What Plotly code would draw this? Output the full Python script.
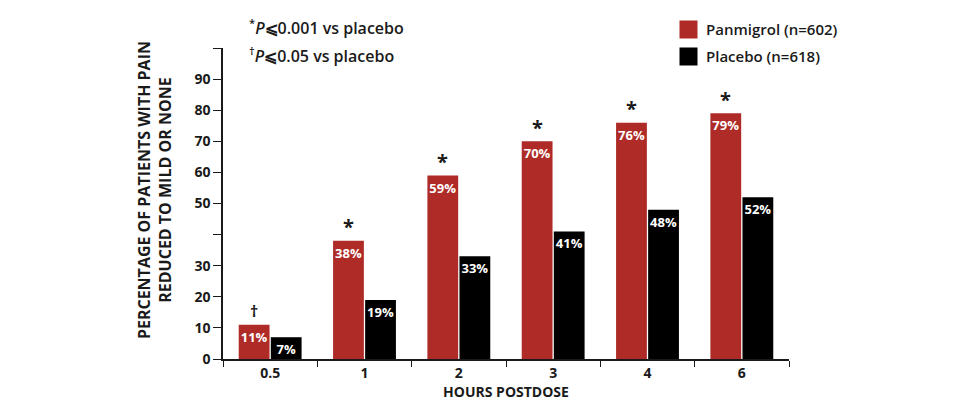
import plotly.graph_objects as go

# データ
hours = ["0.5", "1", "2", "3", "4", "6"]
panmigrol = [11, 38, 59, 70, 76, 79]
placebo = [7, 19, 33, 41, 48, 52]
significance = ["†", "*", "*", "*", "*", "*"]

series_names = ["Panmigrol (n=602)", "Placebo (n=618)"]

y_ticks = [0, 10, 20, 30, 40, 50, 60, 70, 80, 90, 100]
y_labels = ["0", "10", "20", "30", "", "50", "60", "70", "80", "90", ""]

RED = "#AE2B27"
BLACK = "#000000"
INK = "#1a1a1a"
FONT = "Open Sans"

fig = go.Figure()

for name, vals, color in [(series_names[0], panmigrol, RED), (series_names[1], placebo, BLACK)]:
    fig.add_trace(go.Bar(
        x=hours, y=vals, name=name,
        marker=dict(color=color, line=dict(width=0)),
        text=[f"{v}%" for v in vals],
        textposition="inside", insidetextanchor="end", textangle=0,
        constraintext="none",
        textfont=dict(family=FONT, size=13, color="white", weight="bold"),
        showlegend=False,
    ))

# 有意差マーク（カテゴリ軸なのでインデックス位置で指定）
for i, (v, s) in enumerate(zip(panmigrol, significance)):
    fig.add_annotation(
        x=i, y=v, text=f"<b>{s}</b>", showarrow=False,
        xshift=-16, yshift=14, yanchor="middle",
        font=dict(family=FONT, size=20 if s == "*" else 16, color=INK),
    )

# 脚注
fig.add_annotation(
    xref="paper", yref="paper", x=0.043, y=1.066, xanchor="left", yanchor="middle",
    text="<sup>*</sup><i>P</i>⩽0.001 vs placebo", showarrow=False,
    font=dict(family=FONT, size=16, color=INK, weight=600),
)
fig.add_annotation(
    xref="paper", yref="paper", x=0.043, y=0.979, xanchor="left", yanchor="middle",
    text="<sup>†</sup><i>P</i>⩽0.05 vs placebo", showarrow=False,
    font=dict(family=FONT, size=16, color=INK, weight=600),
)

# 凡例（マージンを押し広げないよう注釈で作成）
for name, color, ly in [(series_names[0], RED, 1.061), (series_names[1], BLACK, 0.974)]:
    fig.add_annotation(
        xref="paper", yref="paper", x=0.822, y=ly, xanchor="center", yanchor="middle",
        text=" ", showarrow=False, width=17, height=17, bgcolor=color, borderpad=0,
        font=dict(size=1),
    )
    fig.add_annotation(
        xref="paper", yref="paper", x=0.85, y=ly, xanchor="left", yanchor="middle",
        text=name, showarrow=False,
        font=dict(family=FONT, size=15, color=INK, weight=600),
    )

# Y軸タイトル（元図ではやや上寄りなので注釈で配置）
fig.add_annotation(
    xref="paper", yref="paper", x=-0.1217, y=0.5434, xanchor="center", yanchor="middle",
    text="PERCENTAGE OF PATIENTS WITH PAIN<br>REDUCED TO MILD OR NONE",
    textangle=-90, showarrow=False,
    font=dict(family=FONT, size=16, color=INK, weight="bold"),
)

# ページの余白（8px）を考慮したマージン
fig.update_layout(
    width=970, height=416,
    margin=dict(l=215, r=189, t=40, b=65),
    paper_bgcolor="white", plot_bgcolor="white",
    barmode="group", bargap=0.32, bargroupgap=0.04,
    font=dict(family=FONT, color=INK),
    showlegend=False,
    xaxis=dict(
        type="category", showline=True, linecolor=INK, linewidth=1.5,
        ticks="outside", tickson="boundaries", ticklen=6, tickcolor=INK,
        tickfont=dict(family=FONT, size=14, color=INK, weight="bold"),
        title=dict(text="HOURS POSTDOSE", standoff=2,
                   font=dict(family=FONT, size=14, color=INK, weight="bold")),
        showgrid=False, zeroline=False, automargin=False,
    ),
    yaxis=dict(
        range=[0, 100], tickvals=y_ticks, ticktext=y_labels,
        showline=True, linecolor=INK, linewidth=1.5,
        ticks="outside", ticklen=8, tickcolor=INK,
        tickfont=dict(family=FONT, size=14, color=INK, weight="bold"),
        showgrid=False, zeroline=False, automargin=False,
    ),
)

fig.write_html("out.html")
